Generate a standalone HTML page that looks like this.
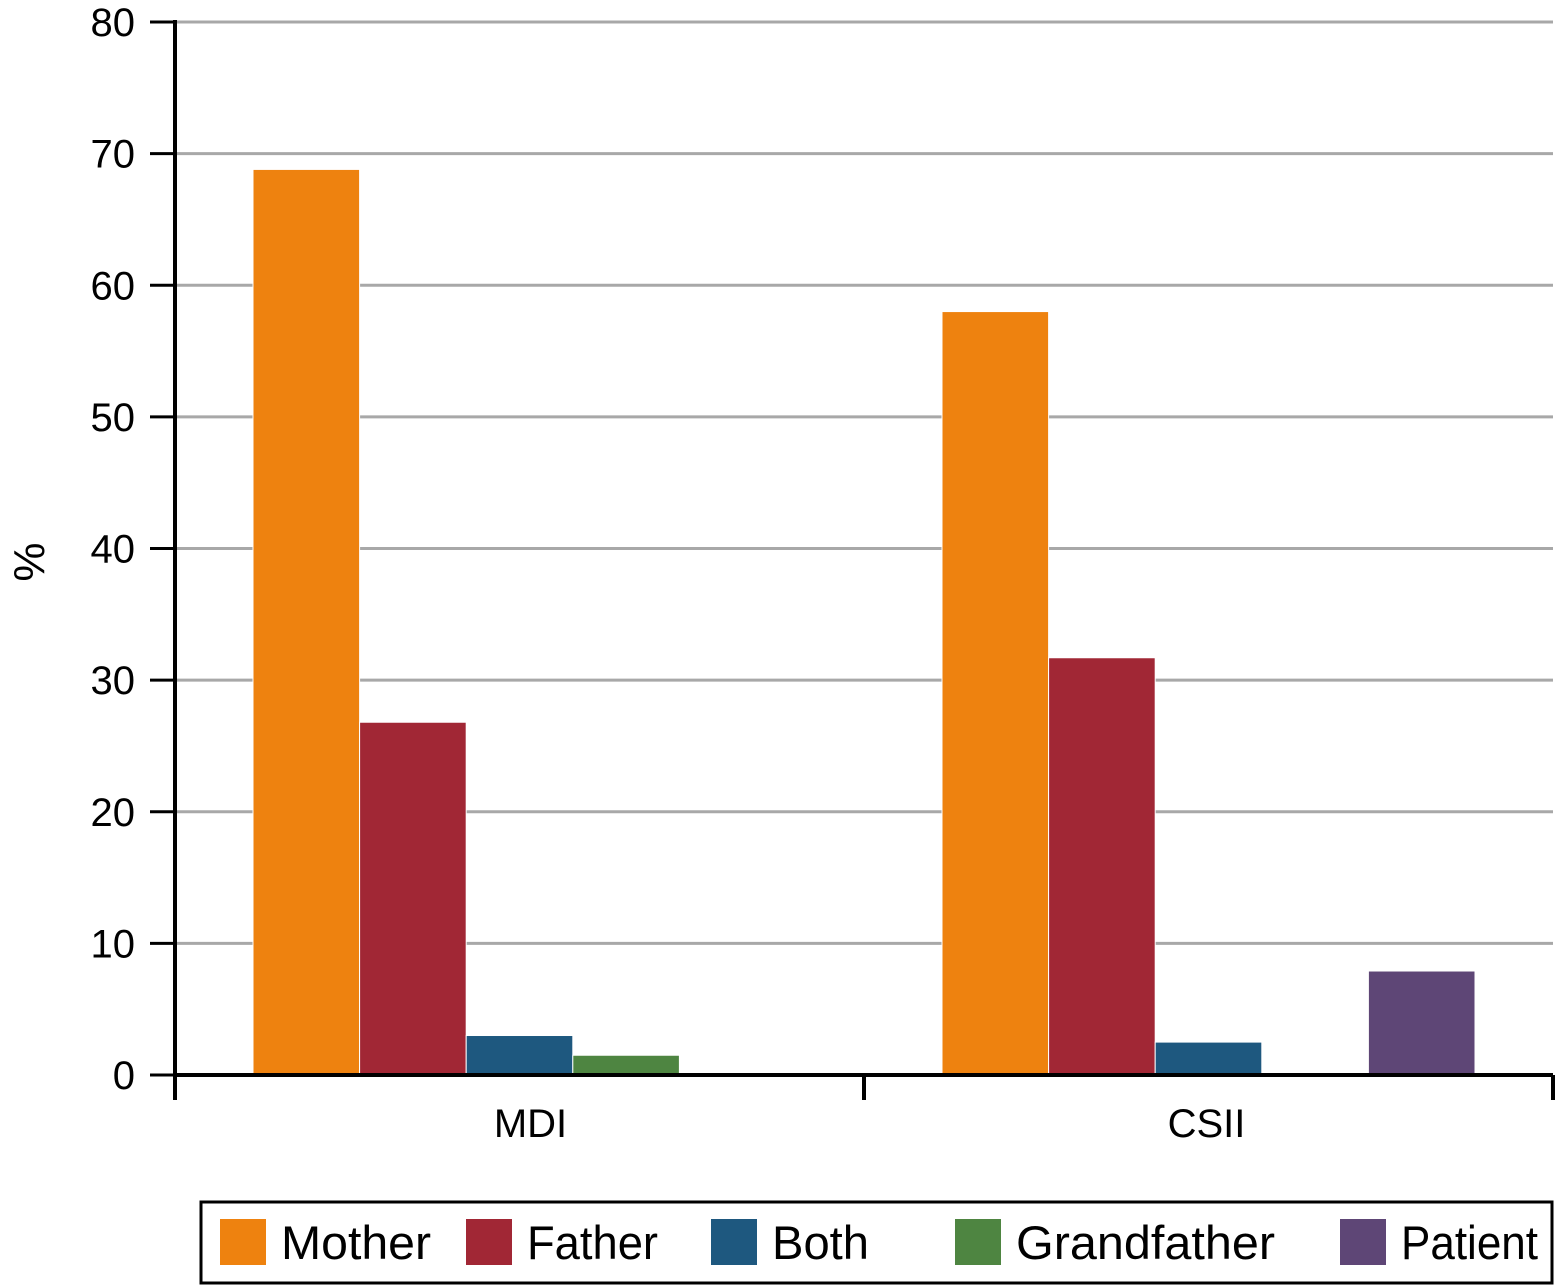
<!DOCTYPE html>
<html><head><meta charset="utf-8"><style>
body{margin:0;background:#fff;}
svg{display:block;font-family:"Liberation Sans",sans-serif;}
</style></head><body>
<svg id="chart" width="1558" height="1285">
<g id="grid"></g><g id="bars"></g><g id="axes"></g><g id="legend"></g>
<text x="0" y="0" font-size="44" text-anchor="middle" transform="translate(44,562) rotate(-90)">%</text>
</svg>
<script>
const categories=["MDI","CSII"];
const seriesNames=["Mother","Father","Both","Grandfather","Patient"];
const seriesColors=["#EE820F","#A12735","#1E587F","#4E8541","#5E4676"];
const mother=[68.8,58.0];
const father=[26.8,31.7];
const both=[3.0,2.5];
const grandfather=[1.5,0];
const patient=[0,7.9];
const yTicks=[0,10,20,30,40,50,60,70,80];
const series=[mother,father,both,grandfather,patient];
const NS="http://www.w3.org/2000/svg";
const x0=175,x1=1553,y0=1075,yTop=22,yMax=80;
const y=v=>y0-(v/yMax)*(y0-yTop);
const catW=(x1-x0)/categories.length;
const pad=78,barW=(catW-2*pad)/series.length;
function mk(t,a,p){const e=document.createElementNS(NS,t);for(const k in a)e.setAttribute(k,a[k]);p.appendChild(e);return e;}
const grid=document.getElementById('grid'),bars=document.getElementById('bars'),axes=document.getElementById('axes'),leg=document.getElementById('legend');
yTicks.forEach(t=>{
  if(t>0){const g=mk('line',{x1:x0,x2:x1,y1:y(t),y2:y(t),stroke:'#a8a8a8','stroke-width':3},grid);
  
  }
  const tk=mk('line',{x1:150,x2:x0,y1:y(t),y2:y(t),stroke:'#000','stroke-width':3},axes);
  
  
  const l=mk('text',{x:135,y:y(t)+14,'font-size':40,'text-anchor':'end'},axes);l.textContent=t;
  
  
});
categories.forEach((c,i)=>{
  series.forEach((s,j)=>{
    if(s[i]<=0)return;
    const r=mk('rect',{x:x0+i*catW+pad+j*barW,y:y(s[i]),width:barW,height:y0-y(s[i]),fill:seriesColors[j],stroke:'#fff','stroke-width':1},bars);
    
    
  });
  const l=mk('text',{x:x0+i*catW+catW/2+(i===0?11:-2),y:1137,'font-size':40,'text-anchor':'middle'},axes);l.textContent=c;
  
  
});
const ya=mk('line',{x1:x0,x2:x0,y1:20,y2:1100,stroke:'#000','stroke-width':4},axes);


const xa=mk('line',{x1:x0,x2:x1,y1:y0,y2:y0,stroke:'#000','stroke-width':4},axes);


for(let i=0;i<=categories.length;i++){const t=mk('line',{x1:x0+i*catW,x2:x0+i*catW,y1:y0,y2:1100,stroke:'#000','stroke-width':4},axes);

}
const box=mk('rect',{x:201,y:1202,width:1351,height:81,fill:'none',stroke:'#000','stroke-width':3},leg);


const lx=[220,466,711,955,1340];
const lw=[150,131,97,259,137];
seriesNames.forEach((n,j)=>{
  const g=mk('g',{},leg);
  
  
  mk('rect',{x:lx[j],y:1219,width:46,height:46,fill:seriesColors[j]},g);
  const t=mk('text',{x:lx[j]+61,y:1259,'font-size':47,textLength:lw[j],lengthAdjust:'spacingAndGlyphs'},g);t.textContent=n;
});
</script>
</body></html>
